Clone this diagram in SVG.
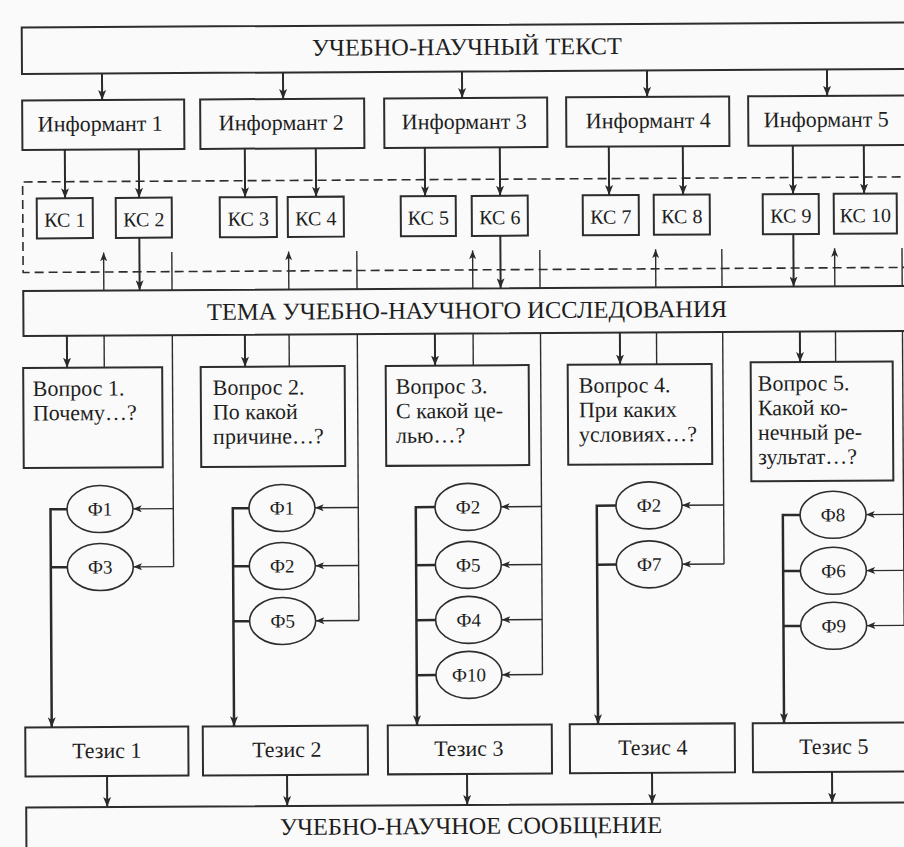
<svg xmlns="http://www.w3.org/2000/svg" width="904" height="847" viewBox="0 0 904 847" font-family="'Liberation Serif', 'DejaVu Serif', serif">
<defs>
<marker id="ah" viewBox="0 0 10 8" refX="10" refY="4" markerWidth="10" markerHeight="8" orient="auto" markerUnits="userSpaceOnUse"><path d="M0,0 L10,4 L0,8 L2.5,4 Z" fill="#2a2a2a"/></marker>
<marker id="ahs" viewBox="0 0 10 8" refX="10" refY="4" markerWidth="9" markerHeight="7" orient="auto" markerUnits="userSpaceOnUse"><path d="M0,0 L10,4 L0,8 L2.5,4 Z" fill="#2a2a2a"/></marker>
</defs>
<style>
.box{fill:none;stroke:#2d2d2d;stroke-width:2}
.dash{fill:none;stroke:#2d2d2d;stroke-width:1.6;stroke-dasharray:9,5}
.ell{fill:none;stroke:#2d2d2d;stroke-width:1.6}
.arr{fill:none;stroke:#2a2a2a;stroke-width:2;marker-end:url(#ah)}
.thin{fill:none;stroke:#2d2d2d;stroke-width:1.4}
.thina{fill:none;stroke:#2d2d2d;stroke-width:1.4;marker-end:url(#ahs)}
.bus{fill:none;stroke:#2a2a2a;stroke-width:2.5}
.busa{fill:none;stroke:#2a2a2a;stroke-width:2.5;marker-end:url(#ah)}
text{font-family:"Liberation Serif","DejaVu Serif",serif;fill:#1e1e1e}
.t24{font-size:24px;text-anchor:middle}
.t22{font-size:22px}
.c22{font-size:22px;text-anchor:middle}
.ks{font-size:20px;text-anchor:middle}
.f{font-size:19px;text-anchor:middle}
</style>
<rect x="0" y="0" width="904" height="847" fill="#fafafa"/>
<g transform="rotate(-0.33 452 423)">
<g id="text-top"><rect class="box" x="24" y="25" width="900" height="46.5"/><text class="t24" x="469" y="55" textLength="310" lengthAdjust="spacingAndGlyphs">УЧЕБНО-НАУЧНЫЙ ТЕКСТ</text></g>
<g id="inf1"><rect class="box" x="24" y="98" width="162" height="49.5"/><text class="c22" x="102" y="129">Информант 1</text></g>
<g id="inf2"><rect class="box" x="202" y="98" width="164" height="49.5"/><text class="c22" x="283" y="129">Информант 2</text></g>
<g id="inf3"><rect class="box" x="386" y="98" width="163" height="49.5"/><text class="c22" x="466" y="129">Информант 3</text></g>
<g id="inf4"><rect class="box" x="568" y="98" width="163" height="49.5"/><text class="c22" x="650" y="129">Информант 4</text></g>
<g id="inf5"><rect class="box" x="750" y="98" width="170" height="49.5"/><text class="c22" x="828" y="129">Информант 5</text></g>
<g id="ks-area"><path class="dash" d="M930,179.5 H24 V270 H930"/></g>
<g id="ks1"><rect class="box" x="38" y="196" width="56" height="40"/><text class="ks" x="66" y="224.5">КС 1</text></g>
<g id="ks2"><rect class="box" x="117" y="196" width="56" height="40"/><text class="ks" x="145" y="224.5">КС 2</text></g>
<g id="ks3"><rect class="box" x="221" y="196" width="57" height="40"/><text class="ks" x="249.5" y="224.5">КС 3</text></g>
<g id="ks4"><rect class="box" x="289" y="196" width="56" height="40"/><text class="ks" x="317" y="224.5">КС 4</text></g>
<g id="ks5"><rect class="box" x="402" y="196" width="55" height="40"/><text class="ks" x="429.5" y="224.5">КС 5</text></g>
<g id="ks6"><rect class="box" x="473" y="196" width="56" height="40"/><text class="ks" x="501" y="224.5">КС 6</text></g>
<g id="ks7"><rect class="box" x="584" y="196" width="56" height="40"/><text class="ks" x="612" y="224.5">КС 7</text></g>
<g id="ks8"><rect class="box" x="655" y="196" width="56" height="40"/><text class="ks" x="683" y="224.5">КС 8</text></g>
<g id="ks9"><rect class="box" x="764" y="196" width="56" height="40"/><text class="ks" x="792" y="224.5">КС 9</text></g>
<g id="ks10"><rect class="box" x="835" y="196" width="63" height="40"/><text class="ks" x="866.5" y="224.5">КС 10</text></g>
<g id="tema"><rect class="box" x="24" y="288.5" width="900" height="45"/><text class="t24" x="467.6" y="318.5" textLength="520" lengthAdjust="spacingAndGlyphs">ТЕМА УЧЕБНО-НАУЧНОГО ИССЛЕДОВАНИЯ</text></g>
<g id="q1"><rect class="box" x="23.5" y="365.5" width="139" height="100"/><text class="t22" x="33" y="393.5">Вопрос 1.</text><text class="t22" x="33" y="418">Почему…?</text></g>
<g id="q2"><rect class="box" x="201" y="365.5" width="144" height="100"/><text class="t22" x="213" y="393.5">Вопрос 2.</text><text class="t22" x="213" y="418">По какой</text><text class="t22" x="213" y="442.5">причине…?</text></g>
<g id="q3"><rect class="box" x="386" y="365.5" width="143" height="100"/><text class="t22" x="396" y="393.5">Вопрос 3.</text><text class="t22" x="396" y="418">С какой це-</text><text class="t22" x="396" y="442.5">лью…?</text></g>
<g id="q4"><rect class="box" x="568" y="365.5" width="144" height="100"/><text class="t22" x="579" y="393.5">Вопрос 4.</text><text class="t22" x="579" y="418">При каких</text><text class="t22" x="579" y="442.5">условиях…?</text></g>
<g id="q5"><rect class="box" x="751" y="364" width="142" height="119"/><text class="t22" x="758" y="392.5">Вопрос 5.</text><text class="t22" x="758" y="417">Какой ко-</text><text class="t22" x="758" y="441.5">нечный ре-</text><text class="t22" x="758" y="466">зультат…?</text></g>
<g id="f-c1-1"><ellipse class="ell" cx="99.5" cy="507" rx="33" ry="23.5"/><text class="f" x="99.5" y="513.5">Ф1</text></g>
<g id="f-c1-3"><ellipse class="ell" cx="99.5" cy="565" rx="33" ry="23.5"/><text class="f" x="99.5" y="571.5">Ф3</text></g>
<g id="f-c2-1"><ellipse class="ell" cx="281.5" cy="507" rx="33" ry="23.5"/><text class="f" x="281.5" y="513.5">Ф1</text></g>
<g id="f-c2-2"><ellipse class="ell" cx="281.5" cy="565" rx="33" ry="23.5"/><text class="f" x="281.5" y="571.5">Ф2</text></g>
<g id="f-c2-5"><ellipse class="ell" cx="281.5" cy="620" rx="33" ry="23.5"/><text class="f" x="281.5" y="626.5">Ф5</text></g>
<g id="f-c3-2"><ellipse class="ell" cx="467.5" cy="507" rx="33" ry="23.5"/><text class="f" x="467.5" y="513.5">Ф2</text></g>
<g id="f-c3-5"><ellipse class="ell" cx="467.5" cy="565" rx="33" ry="23.5"/><text class="f" x="467.5" y="571.5">Ф5</text></g>
<g id="f-c3-4"><ellipse class="ell" cx="467.5" cy="620" rx="33" ry="23.5"/><text class="f" x="467.5" y="626.5">Ф4</text></g>
<g id="f-c3-10"><ellipse class="ell" cx="467.5" cy="675" rx="33" ry="23.5"/><text class="f" x="467.5" y="681.5">Ф10</text></g>
<g id="f-c4-2"><ellipse class="ell" cx="648.5" cy="506.5" rx="33" ry="23.5"/><text class="f" x="648.5" y="513">Ф2</text></g>
<g id="f-c4-7"><ellipse class="ell" cx="648.5" cy="565.5" rx="33" ry="23.5"/><text class="f" x="648.5" y="572">Ф7</text></g>
<g id="f-c5-8"><ellipse class="ell" cx="832.5" cy="517" rx="33" ry="23.5"/><text class="f" x="832.5" y="523.5">Ф8</text></g>
<g id="f-c5-6"><ellipse class="ell" cx="832.5" cy="573" rx="33" ry="23.5"/><text class="f" x="832.5" y="579.5">Ф6</text></g>
<g id="f-c5-9"><ellipse class="ell" cx="832.5" cy="628" rx="33" ry="23.5"/><text class="f" x="832.5" y="634.5">Ф9</text></g>
<g id="th1"><rect class="box" x="23.5" y="725" width="163" height="49"/><text class="c22" x="105" y="756">Тезис 1</text></g>
<g id="th2"><rect class="box" x="201" y="725" width="165" height="49"/><text class="c22" x="285" y="756">Тезис 2</text></g>
<g id="th3"><rect class="box" x="386" y="725" width="164" height="49"/><text class="c22" x="467" y="756">Тезис 3</text></g>
<g id="th4"><rect class="box" x="568" y="725" width="165" height="49"/><text class="c22" x="651" y="756">Тезис 4</text></g>
<g id="th5"><rect class="box" x="751" y="725" width="170" height="49"/><text class="c22" x="832" y="756">Тезис 5</text></g>
<g id="message"><rect class="box" x="24" y="805" width="900" height="60"/><text class="t24" x="468.7" y="834" textLength="382" lengthAdjust="spacingAndGlyphs">УЧЕБНО-НАУЧНОЕ СООБЩЕНИЕ</text></g>
<g id="connectors">
<path class="arr" d="M104,71.5 V98"/><path class="arr" d="M285,71.5 V98"/><path class="arr" d="M464,71.5 V98"/><path class="arr" d="M649,71.5 V98"/><path class="arr" d="M829,71.5 V98"/>
<path class="arr" d="M66.4,147.5 V196"/><path class="arr" d="M140.4,147.5 V196"/><path class="arr" d="M246.4,147.5 V196"/><path class="arr" d="M317.4,147.5 V196"/><path class="arr" d="M426.4,147.5 V196"/><path class="arr" d="M501.4,147.5 V196"/><path class="arr" d="M610.4,147.5 V196"/><path class="arr" d="M684.4,147.5 V196"/><path class="arr" d="M794.4,147.5 V196"/><path class="arr" d="M865.4,147.5 V196"/>
<path class="arr" d="M140.4,236 V288.5"/><path class="arr" d="M501.4,236 V288.5"/><path class="arr" d="M794.4,236 V288.5"/>
<path class="thina" d="M104.6,288.5 V250.5"/><path class="thina" d="M289.6,288.5 V250.5"/><path class="thina" d="M473.6,288.5 V250.5"/><path class="thina" d="M656.6,288.5 V250.5"/><path class="thina" d="M835.6,288.5 V250.5"/>
<path class="thin" d="M172.8,250.5 V288.5"/><path class="thin" d="M357.8,250.5 V288.5"/><path class="thin" d="M540.8,250.5 V288.5"/><path class="thin" d="M722.8,250.5 V288.5"/><path class="thin" d="M903,250.5 V288.5"/>
<path class="arr" d="M67.4,333.5 V365.5"/><path class="arr" d="M245.4,333.5 V365.5"/><path class="arr" d="M435.4,333.5 V365.5"/><path class="arr" d="M620.4,333.5 V365.5"/><path class="arr" d="M800.4,333.5 V364"/>
<path class="thin" d="M104.6,333.5 V365.5"/><path class="thin" d="M289.6,333.5 V365.5"/><path class="thin" d="M473.6,333.5 V365.5"/><path class="thin" d="M657,333.5 V365.5"/><path class="thin" d="M836,333.5 V364"/>
<path class="thin" d="M172.8,333.5 V565"/><path class="thina" d="M172.8,507 H132.5"/><path class="thina" d="M172.8,565 H132.5"/>
<path class="thin" d="M357.8,333.5 V620"/><path class="thina" d="M357.8,507 H314.5"/><path class="thina" d="M357.8,565 H314.5"/><path class="thina" d="M357.8,620 H314.5"/>
<path class="thin" d="M541,333.5 V675"/><path class="thina" d="M541,507 H500.5"/><path class="thina" d="M541,565 H500.5"/><path class="thina" d="M541,620 H500.5"/><path class="thina" d="M541,675 H500.5"/>
<path class="thin" d="M723.2,333.5 V565.5"/><path class="thina" d="M723.2,506.5 H681.5"/><path class="thina" d="M723.2,565.5 H681.5"/>
<path class="thin" d="M903,333.5 V628"/><path class="thina" d="M903,517 H865.5"/><path class="thina" d="M903,573 H865.5"/><path class="thina" d="M903,628 H865.5"/>
<path class="busa" d="M66.5,507 H50 V725"/><path class="bus" d="M50,565 H66.5"/>
<path class="busa" d="M248.5,507 H232.3 V725"/><path class="bus" d="M232.3,565 H248.5 M232.3,620 H248.5"/>
<path class="busa" d="M434.5,507 H415.3 V725"/><path class="bus" d="M415.3,565 H434.5 M415.3,620 H434.5 M415.3,675 H434.5"/>
<path class="busa" d="M615.5,506.5 H596.3 V725"/><path class="bus" d="M596.3,565.5 H615.5"/>
<path class="busa" d="M799.5,517 H782.3 V725"/><path class="bus" d="M782.3,573 H799.5 M782.3,628 H799.5"/>
<path class="arr" d="M105,774 V805"/><path class="arr" d="M285,774 V805"/><path class="arr" d="M465,774 V805"/><path class="arr" d="M650,774 V805"/><path class="arr" d="M830,774 V805"/>
</g>
</g>
</svg>
